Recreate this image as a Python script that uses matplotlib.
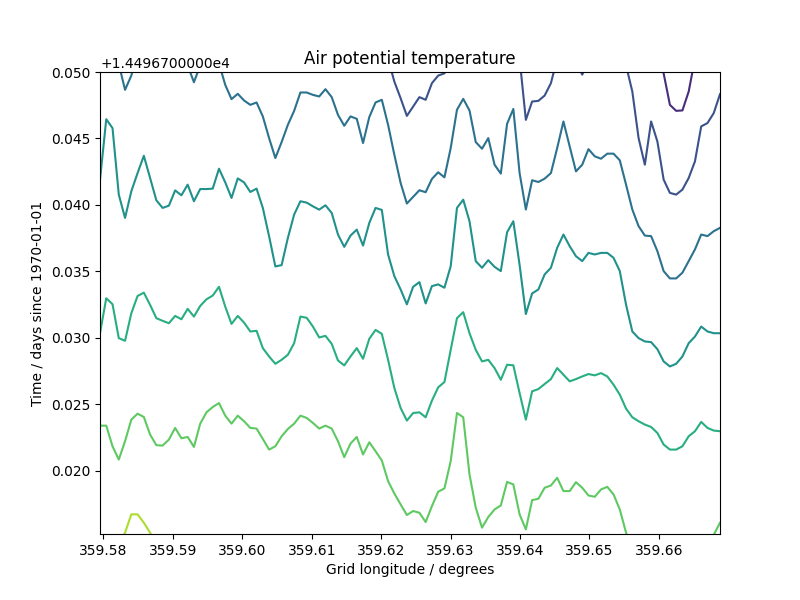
import numpy as np
import matplotlib
matplotlib.use("Agg")
import matplotlib.pyplot as plt
from matplotlib.ticker import ScalarFormatter

nan = np.nan

# longitude grid (degrees) – 100 columns spanning the plotted range
lon_start, lon_end, n_cols = 359.5795, 359.6688, 100
# time offset base (days since 1970-01-01)
t_base = 14496.7
# y-limits as offsets in milli-days
t_low, t_high = 15.263, 50.0

# Contour lines: time offsets (milli-days above t_base) at each longitude column
level1 = [nan] * 89 + [51.0, 49.9, 47.53, 47.08, 47.11, 48.53, 51.0] + [nan] * 4

level2 = ([nan] * 46 + [51.0, 49.28, 48.03, 46.7, 47.4, 48.11, 47.91, 49.16, 49.73, 49.9, 51.0]
          + [nan] * 10 + [51.0, 46.4, 47.78, 47.83, 48.23, 49.16, 51.0]
          + [nan] * 2 + [50.8, 49.8, 50.8] + [nan] * 5
          + [50.5, 48.53, 45.03, 43.03, 46.28, 44.78, 41.91, 40.91, 40.78, 41.16,
             42.03, 43.28, 45.91, 46.16, 46.91, 48.33])

level3 = ([nan] * 3 + [50.6, 48.66, 49.73, 51.5] + [nan] * 7 + [50.5, 49.23, 50.5] + [nan] * 2
          + [50.65, 49.03, 47.96, 48.36, 47.86, 47.53, 47.71, 46.66, 45.03, 43.53,
             44.73, 46.03, 47.08, 48.46, 48.46, 48.28, 48.16, 48.71, 48.11, 46.78,
             45.96, 46.66, 46.48, 44.66, 46.61, 47.71, 47.91, 46.03, 43.78, 41.66,
             40.11, 40.61, 41.11, 40.96, 41.96, 42.46, 42.08, 44.28, 47.16, 47.98,
             47.11, 44.73, 44.23, 45.03, 43.03, 42.36, 46.1, 47.22, 42.4, 39.66,
             41.86, 41.73, 41.98, 42.4, 44.28, 46.28, 44.4, 42.53, 43.03, 44.2,
             43.66, 43.48, 43.86, 43.86, 43.36, 41.53, 39.66, 38.41, 37.7, 37.66,
             36.53, 35.03, 34.48, 34.48, 34.91, 35.78, 36.66, 37.78, 37.66, 38.03,
             38.28])

level4 = [41.9, 46.45, 45.78, 40.78, 39.03, 41.03, 42.4, 43.7, 42.03, 40.35,
          39.78, 39.95, 41.1, 40.73, 41.53, 40.28, 41.2, 41.2, 41.23, 42.73,
          41.7, 40.53, 42.0, 41.7, 40.98, 41.23, 39.78, 37.65, 35.38, 35.48,
          37.53, 39.28, 40.28, 40.18, 39.9, 39.65, 39.98, 39.4, 37.78, 36.85,
          37.7, 38.15, 36.95, 38.65, 39.78, 39.63, 36.28, 34.65, 33.65, 32.53,
          33.85, 34.2, 32.6, 33.9, 34.03, 33.78, 35.4, 39.78, 40.4, 38.78,
          35.78, 35.28, 35.85, 35.35, 35.03, 37.95, 38.78, 35.5, 31.8, 33.35,
          33.65, 34.78, 35.28, 36.78, 37.78, 36.9, 36.15, 35.78, 36.4, 36.28,
          36.4, 36.4, 36.03, 35.03, 32.5, 30.49, 29.99, 29.74, 29.69, 29.16,
          28.24, 27.86, 28.06, 28.61, 29.61, 30.11, 30.86, 30.49, 30.36, 30.36]

level5 = [30.36, 32.99, 32.54, 29.99, 29.79, 31.86, 33.16, 33.41, 32.49, 31.49,
          31.29, 31.11, 31.66, 31.41, 32.19, 31.61, 32.41, 32.91, 33.19, 33.85,
          32.36, 31.06, 31.66, 31.16, 30.49, 30.54, 29.24, 28.61, 28.06, 28.36,
          28.74, 29.61, 31.61, 31.52, 30.86, 30.04, 30.16, 29.56, 28.31, 27.94,
          28.61, 29.24, 28.44, 29.94, 30.61, 30.31, 28.36, 26.24, 24.74, 23.79,
          24.36, 24.41, 24.04, 25.29, 26.29, 26.69, 29.11, 31.49, 31.94, 30.36,
          29.11, 28.24, 28.36, 27.74, 26.86, 27.99, 27.95, 25.86, 23.86, 25.99,
          26.16, 26.54, 26.91, 27.74, 27.24, 26.74, 26.91, 27.11, 27.29, 27.19,
          27.36, 27.11, 26.49, 25.74, 24.69, 24.04, 23.74, 23.49, 23.31, 22.86,
          21.99, 21.61, 21.61, 21.86, 22.61, 22.99, 23.69, 23.24, 23.04, 22.99]

level6 = ([23.41, 23.41, 21.86, 20.86, 22.24, 23.86, 24.31, 24.06, 22.74, 21.94,
           21.91, 22.36, 23.24, 22.46, 22.56, 21.81, 23.56, 24.41, 24.81, 25.11,
           24.16, 23.56, 24.16, 23.74, 23.24, 23.19, 22.41, 21.61, 21.86, 22.61,
           23.16, 23.56, 24.16, 23.99, 23.61, 23.19, 23.41, 23.19, 22.24, 21.04,
           22.06, 22.56, 21.24, 22.16, 21.49, 20.79, 19.24, 18.31, 17.49, 16.69,
           16.99, 16.86, 16.16, 17.36, 18.44, 18.69, 20.74, 24.36, 24.04, 19.74,
           17.24, 15.74, 16.54, 17.11, 17.41, 19.18, 18.99, 16.74, 15.61, 17.81,
           17.91, 18.74, 18.91, 19.49, 18.49, 18.49, 19.16, 18.74, 18.16, 18.06,
           18.61, 18.81, 18.24, 17.11, 15.36, 14.0]
          + [nan] * 12 + [15.2, 16.11])

level7 = [nan] * 3 + [14.5, 15.36, 16.74, 16.74, 16.11, 15.36, 14.5] + [nan] * 90

levels = [level1, level2, level3, level4, level5, level6, level7]
color_pos = [1 / 8, 2 / 8, 3 / 8, 4 / 8, 5 / 8, 6 / 8, 7 / 8]


class OffsetFormatter(ScalarFormatter):
    """ScalarFormatter whose offset is written like '+1.4496700000e4'."""

    def get_offset(self):
        s = super().get_offset()
        if not s or self.offset == 0:
            return s
        mant, exp = f"{self.offset:.10e}".split("e")
        sign = "+" if self.offset > 0 else ""
        return f"{sign}{mant}e{int(exp)}"


lon = np.linspace(lon_start, lon_end, n_cols)
cmap = plt.get_cmap("viridis")

fig, ax = plt.subplots(figsize=(8, 6), dpi=100)
for vals, cp in zip(levels, color_pos):
    t = t_base + np.array(vals, dtype=float) / 1000.0
    ax.plot(lon, t, color=cmap(cp), linewidth=1.5)

ax.set_xlim(lon_start, lon_end)
ax.set_ylim(t_base + t_low / 1000.0, t_base + t_high / 1000.0)
ax.yaxis.set_major_formatter(OffsetFormatter())
ax.set_title("Air potential temperature")
ax.set_xlabel("Grid longitude / degrees")
ax.set_ylabel("Time / days since 1970-01-01")

fig.savefig("out.png", dpi=100)
